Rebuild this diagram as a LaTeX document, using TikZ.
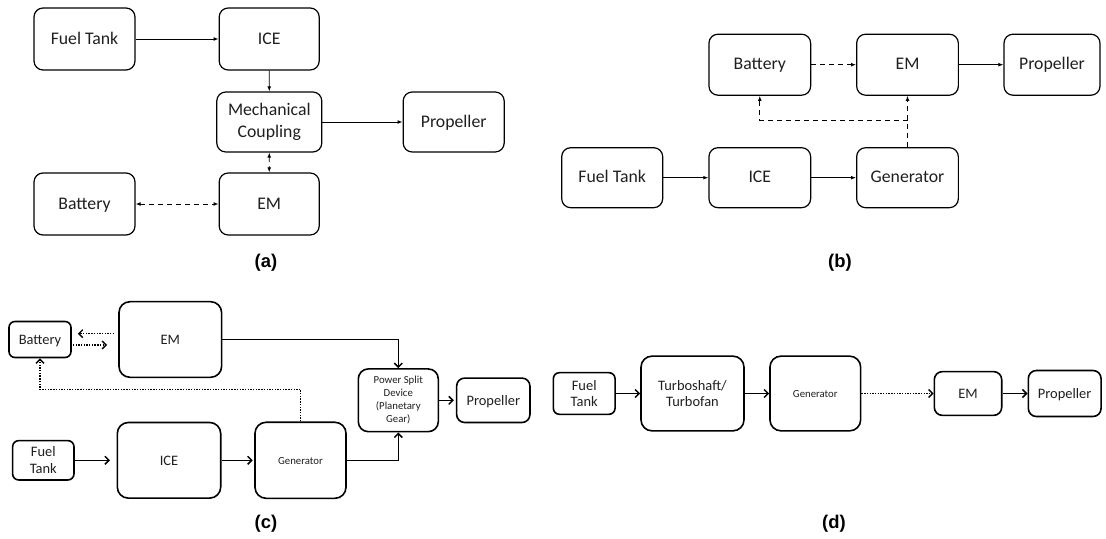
\documentclass[tikz,border=0pt]{standalone}
\usepackage{fontspec}
\setmainfont{Carlito}
\newfontfamily\capfont{Liberation Sans}
\usetikzlibrary{arrows.meta}
\begin{document}
\begin{tikzpicture}[x=1bp,y=-1bp,
  sz/.style 2 args={minimum width=#1bp, minimum height=#2bp},
  boxa/.style={draw, rounded corners=9bp, line width=1.2bp, inner sep=0pt,
    align=center, text=black!88, font=\fontsize{17.8}{22.5}\selectfont},
  boxc/.style={draw, rounded corners=11bp, line width=1.6bp, inner sep=0pt,
    align=center, text=black!88, font=\fontsize{14.5}{16.8}\selectfont},
  sla/.style={text height=12bp, text depth=1.5bp},
  slc/.style={text height=10bp, text depth=0.6bp},
  sls/.style={text height=7.5bp, text depth=0bp},
  smallbox/.style={boxc, rounded corners=6bp},
  smalltxt/.style={font=\fontsize{10.8}{13}\selectfont},
  arra/.style={line width=0.9bp, -{Latex[length=5bp,width=3.8bp]}},
  dasha/.style={arra, dash pattern=on 5bp off 4bp},
  bidash/.style={line width=0.9bp, dash pattern=on 5bp off 4bp,
    {Latex[length=5bp,width=3.8bp]}-{Latex[length=5bp,width=3.8bp]}},
  arrc/.style={line width=1.5bp, -{Straight Barb[length=4bp,width=8bp]}},
  dotc/.style={arrc, line width=1.4bp, dash pattern=on 1.4bp off 1.3bp},
  caption/.style={font=\capfont\bfseries\fontsize{18.5}{22}\selectfont}
]
\useasboundingbox (0,0) rectangle (1106,539);

% ---------------- (a) parallel hybrid ----------------
\node[boxa, sla, sz={101}{62}]  (fta)   at (84.5,39)   {Fuel Tank};
\node[boxa, sla, sz={100}{62}]  (icea)  at (269.2,39)  {ICE};
\node[boxa, sz={105}{60}]       (mca)   at (269.3,122) {Mechanical\\Coupling};
\node[boxa, sla, sz={101}{60}]  (propa) at (453.7,122) {Propeller};
\node[boxa, sla, sz={101}{62}]  (bata)  at (84.5,204)  {Battery};
\node[boxa, sla, sz={100}{62}]  (ema)   at (269.2,204) {EM};
\draw[arra] (fta) -- (icea);
\draw[arra] (icea) -- (mca);
\draw[arra] (mca) -- (propa);
\draw[bidash] (mca) -- (ema);
\draw[bidash] (bata) -- (ema);
\node[caption] (capa) at (266,263) {(a)};

% ---------------- (b) series hybrid ----------------
\node[boxa, sla, sz={101.7}{61}] (batb)  at (759.8,64.7)  {Battery};
\node[boxa, sla, sz={101.7}{61}] (emb)   at (907.5,64.7)  {EM};
\node[boxa, sla, sz={96}{61}]    (propb) at (1052,64.7)   {Propeller};
\node[boxa, sla, sz={101}{60}]   (ftb)   at (612.2,177.7) {Fuel Tank};
\node[boxa, sla, sz={101.7}{60}] (iceb)  at (759.8,177.7) {ICE};
\node[boxa, sla, sz={101.7}{60}] (genb)  at (907.5,177.7) {Generator};
\coordinate (jb) at (907.5,120);
\draw[dasha] (batb) -- (emb);
\draw[arra] (emb) -- (propb);
\draw[arra] (ftb) -- (iceb);
\draw[arra] (iceb) -- (genb);
\draw[dasha] (genb) -- (emb);
\draw[dasha] (jb) -| (batb);
\node[caption] (capb) at (840,263) {(b)};

% ---------------- (c) series/parallel hybrid ----------------
\node[smallbox, slc, sz={62}{36}]  (batc)  at (40,339.5)    {Battery};
\node[boxc, slc, sz={102.7}{75.6}] (emc)   at (170.3,339.5) {EM};
\node[boxc, rounded corners=10bp, sz={80}{62.7}, smalltxt] (psd) at (398.3,400.3)
  {Power Split\\Device\\(Planetary\\Gear)};
\node[boxc, slc, rounded corners=8bp, sz={73.3}{44.4}] (propc) at (493.3,400.3) {Propeller};
\node[smallbox, sz={61.3}{39.3}]   (ftc)   at (43.3,460.3)  {Fuel\\Tank};
\node[boxc, slc, sz={103.4}{75.6}] (icec)  at (169,460.3)   {ICE};
\node[boxc, sls, sz={91}{76}, smalltxt] (genc) at (300.5,460.3) {Generator};
\coordinate (jc) at (300.5,389.3);
\draw[arrc, shorten >=6.5bp] (ftc) -- (icec);
\draw[arrc, shorten >=1.5bp] (icec) -- (genc);
\draw[arrc] (emc) -| (psd);
\draw[arrc] (genc) -| (psd);
\draw[arrc, shorten >=2bp] (psd) -- (propc);
\draw[dotc] ([xshift=-4bp,yshift=5.8bp]emc.west) -- ([xshift=6bp,yshift=5.8bp]batc.east);
\draw[dotc] ([xshift=1bp,yshift=-5.5bp]batc.east) -- ([xshift=-11bp,yshift=-5.5bp]emc.west);
\draw[dotc] (genc) -- (jc) -| (batc);
\node[caption] (capc) at (266,524) {(c)};

% ---------------- (d) turbo-electric ----------------
\node[smallbox, sz={61.7}{41.6}]   (ftd)   at (584.2,393.5)  {Fuel\\Tank};
\node[boxc, sz={103}{74.7}]        (tsd)   at (692.5,393.5)  {Turboshaft/\\Turbofan};
\node[boxc, sls, sz={90.7}{74.7}, smalltxt] (gend) at (815.3,393.5) {Generator};
\node[boxc, slc, rounded corners=8bp, sz={67.4}{43.7}] (emd)   at (968,393.5)    {EM};
\node[boxc, slc, rounded corners=8bp, sz={72.7}{46}]   (propd) at (1064.7,393.5) {Propeller};
\draw[arrc] (ftd) -- (tsd);
\draw[arrc] (tsd) -- (gend);
\draw[dotc] (gend) -- (emd);
\draw[arrc] (emd) -- (propd);
\node[caption] (capd) at (834,524) {(d)};
\end{tikzpicture}
\end{document}
